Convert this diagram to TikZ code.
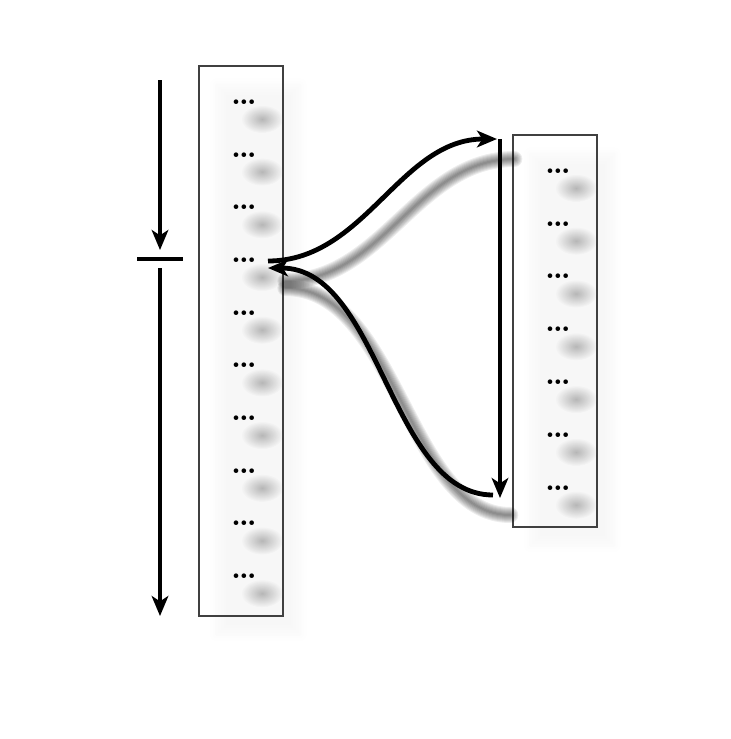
\documentclass[tikz,border=0pt]{standalone}
\usepackage{amsmath,amssymb}
\usetikzlibrary{arrows.meta,shadows.blur,fadings}

\tikzfading[name=softblob, inner color=transparent!20, outer color=transparent!100]

\tikzset{
  column/.style={draw=black!75, line width=0.8pt, minimum width=63pt,
    blur shadow={shadow xshift=13pt, shadow yshift=-14pt, shadow blur radius=7pt, shadow opacity=3}},
  entry/.style={font=\bfseries\fontsize{24}{24}\selectfont, inner sep=0pt},
  axis/.style={line width=2.4pt},
  link/.style={line width=3.6pt},
}

\begin{document}
\begin{tikzpicture}[x=0.75pt, y=-0.75pt, >={Stealth[length=15pt, width=12.5pt, inset=4pt]}]
\useasboundingbox (0,0) rectangle (731,739);

% Columns
\node[column, minimum height=412.5pt] (colA) at (241,341) {};
\node[column, minimum height=294pt] (colB) at (555,331) {};

% Shadows of the entries
\foreach \i in {1,...,10}
  \fill[black!35, path fading=softblob] (262,{119+52.7*(\i-1)}) ellipse (21 and 14);
\foreach \i in {1,...,7}
  \fill[black!35, path fading=softblob] (576,{188+52.8*(\i-1)}) ellipse (21 and 14);

% Entries
\foreach \i in {1,...,10}
  \node[entry] (a\i) at (244,{102+52.7*(\i-1)}) {\ldots};
\foreach \i in {1,...,7}
  \node[entry] (b\i) at (558,{171+52.8*(\i-1)}) {\ldots};

% Axis on the left
\coordinate (t0) at (160,80);
\coordinate (t1) at (160,250);
\coordinate (t2) at (160,268);
\coordinate (t3) at (160,616);
\coordinate (m0) at (137,259);
\coordinate (m1) at (183,259);
\draw[axis, ->] (t0) -- (t1);
\draw[axis] (m0) -- (m1);
\draw[axis, ->] (t2) -- (t3);

% Links between the columns
\coordinate (src) at (268,261);
\coordinate (dst) at (268,268);
\coordinate (fwd) at (497,139);
\coordinate (ret) at (493,495);
\coordinate (s0) at (500,139);
\coordinate (s1) at (500,498);

\begin{scope}[transform canvas={shift={(13pt,-15pt)}}]
  \foreach \w in {2,4,...,16} {
    \draw[line width=\w*0.75pt, black, opacity=0.07, line cap=round] (src) .. controls +(97,0) and +(-97,0) .. (fwd);
    \draw[line width=\w*0.75pt, black, opacity=0.07, line cap=round] (ret) .. controls +(-103,0) and +(112,0) .. (dst);
  }
\end{scope}

\draw[link, ->] (src) .. controls +(97,0) and +(-97,0) .. (fwd);
\draw[link, ->] (ret) .. controls +(-103,0) and +(112,0) .. (dst);
\draw[axis, ->] (s0) -- (s1);

\end{tikzpicture}
\end{document}
